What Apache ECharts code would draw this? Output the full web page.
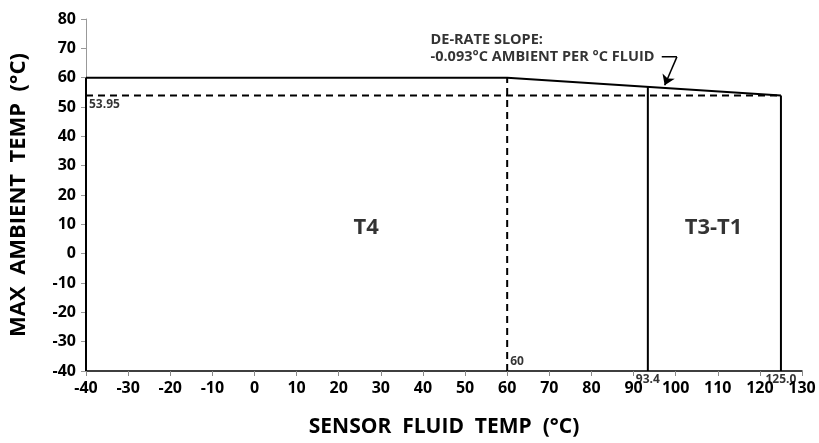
<!DOCTYPE html>
<html>
<head>
<meta charset="utf-8">
<script src="https://cdn.jsdelivr.net/npm/echarts@6/dist/echarts.min.js"></script>
<style>
  html, body { margin: 0; padding: 0; background: #fff; }
  #main { width: 819px; height: 443px; }
</style>
</head>
<body>
<div id="main"></div>
<script>
// 数据
var ratedLine = [[-40, 60], [60, 60], [125, 53.95]];
var leftEdge = [[-40, -40], [-40, 60]];
var limitLine = [[-40, 53.95], [125, 53.95]];
var split60 = [[60, -40], [60, 60]];
var split934 = [[93.4, -40], [93.4, 56.89]];
var edge125 = [[125, -40], [125, 53.95]];
var arrowPath = [[96.7, 67.1], [100.3, 67.1]];
var arrowTip = [97.4, 57.4];

var valueLabels = [
  { value: [-40, 53.95], text: '53.95', pos: 'insideTopLeft' },
  { value: [60, -40], text: '60', pos: 'insideBottomLeft' },
  { value: [93.4, -40], text: '93.4', pos: 'bottom' },
  { value: [125, -40], text: '125.0', pos: 'bottom' }
];
var zoneLabels = [
  { value: [26.5, 9], text: 'T4' },
  { value: [109, 9], text: 'T3-T1' }
];
var noteLines = [
  { value: [41.8, 72.9], text: 'DE-RATE SLOPE:' },
  { value: [41.8, 67.1], text: '-0.093°C AMBIENT PER °C FLUID' }
];

var FONT = "'Open Sans', sans-serif";
var chart = echarts.init(document.getElementById('main'));

function seg(data, dashed) {
  return {
    type: 'line', data: data, symbol: 'none', silent: true,
    lineStyle: { color: '#000', width: 2, type: dashed ? [7, 5] : 'solid' }
  };
}

function textSeries(list, style) {
  return {
    type: 'scatter', symbolSize: 0, silent: true,
    data: list.map(function (d) {
      return { value: d.value, label: { formatter: d.text, position: d.pos || style.position } };
    }),
    label: Object.assign({ show: true, color: '#000', fontFamily: FONT, fontWeight: 'bold' }, style)
  };
}

var option = {
  animation: false,
  grid: { left: 85, right: 17, top: 19, bottom: 71 },
  xAxis: {
    type: 'value', min: -40, max: 130, interval: 10,
    name: 'SENSOR  FLUID  TEMP  (°C)', nameLocation: 'middle', nameGap: 46,
    nameTextStyle: { fontFamily: FONT, fontWeight: 'bold', fontSize: 21, color: '#000' },
    axisLine: { onZero: false, lineStyle: { color: '#000', width: 1.5 } },
    axisTick: { show: true, length: 5, lineStyle: { color: '#888' } },
    axisLabel: { fontFamily: FONT, fontWeight: 'bold', fontSize: 16, color: '#000', margin: 9 },
    splitLine: { show: false }
  },
  yAxis: {
    type: 'value', min: -40, max: 80, interval: 10,
    name: 'MAX  AMBIENT  TEMP  (°C)', nameLocation: 'middle', nameGap: 56,
    nameTextStyle: { fontFamily: FONT, fontWeight: 'bold', fontSize: 22, color: '#000' },
    axisLine: { show: true, onZero: false, lineStyle: { color: '#999', width: 1 } },
    axisTick: { show: true, length: 5, lineStyle: { color: '#999' } },
    axisLabel: { fontFamily: FONT, fontWeight: 'bold', fontSize: 16, color: '#000', margin: 10 },
    splitLine: { show: false }
  },
  series: [
    seg(ratedLine, false),
    seg(leftEdge, false),
    seg(limitLine, true),
    seg(split60, true),
    seg(split934, false),
    seg(edge125, false),
    {
      type: 'line', data: arrowPath, symbol: 'none', silent: true,
      lineStyle: { color: '#000', width: 1.5 },
      markLine: {
        silent: true, symbol: ['none', 'arrow'], symbolSize: 10,
        label: { show: false },
        lineStyle: { color: '#000', width: 1.5, type: 'solid' },
        data: [[{ coord: arrowPath[1] }, { coord: arrowTip }]]
      }
    },
    textSeries(valueLabels, { fontSize: 12, distance: 3 }),
    textSeries(zoneLabels, { fontSize: 22, position: 'inside' }),
    textSeries(noteLines, { fontSize: 14.5, position: 'right', distance: 0 })
  ]
};
chart.setOption(option);
</script>
</body>
</html>
